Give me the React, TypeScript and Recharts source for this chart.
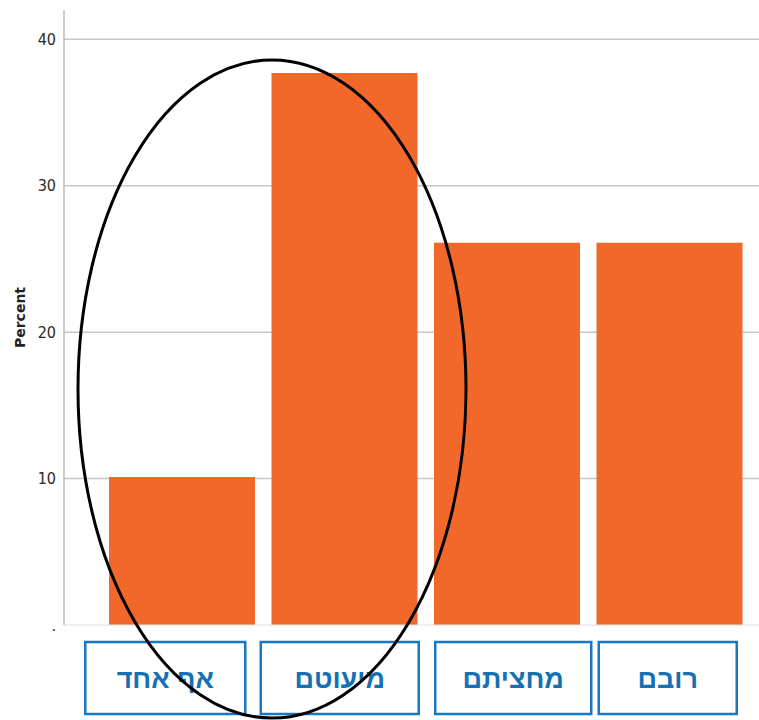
import React from 'react';
import { BarChart, Bar, XAxis, YAxis, CartesianGrid } from 'recharts';

// categories (Hebrew answers) and share of respondents in percent
const categories = ['אף אחד', 'מיעוטם', 'מחציתם', 'רובם'];
const percents = [10.1, 37.7, 26.1, 26.1];
const yTicks = [0, 10, 20, 30, 40];

const data = categories.map((name, i) => ({ name, percent: percents[i] }));

// label box look, per category
const boxWidths = [160, 158, 156, 138];
const boxShift = [-17, -5, 6, -2];

const BoxTick = (props: any) => {
  const { x, y, payload, index } = props;
  const w = boxWidths[index] ?? 150;
  const cx = x + (boxShift[index] ?? 0);
  return (
    <g>
      <rect
        x={cx - w / 2}
        y={y + 9}
        width={w}
        height={72}
        fill="#fff"
        stroke="#1a78c2"
        strokeWidth={2.5}
      />
      <text
        x={cx}
        y={y + 55}
        textAnchor="middle"
        fontFamily="'Liberation Sans', 'DejaVu Sans', sans-serif"
        fontWeight="bold"
        fontSize={27}
        fill="#1670b4"
        direction="rtl"
      >
        {payload.value}
      </text>
    </g>
  );
};

export default function App() {
  return (
    <div style={{ position: 'absolute', left: 0, top: 0, width: 759, height: 720, background: '#fff' }}>
      <BarChart
        width={759}
        height={720}
        data={data}
        margin={{ top: 10, right: 0, bottom: 0, left: 0 }}
      >
        <CartesianGrid
          vertical={false}
          horizontalValues={yTicks.filter((t) => t > 0)}
          stroke="#c8c8c8"
          strokeWidth={1.5}
        />
        <XAxis
          dataKey="name"
          height={95}
          axisLine={{ stroke: '#e0e0e0' }}
          tickLine={false}
          padding={{ left: 37, right: 8 }}
          tick={<BoxTick />}
          interval={0}
        />
        <YAxis
          width={64}
          domain={[0, 42]}
          ticks={yTicks}
          tickLine={false}
          axisLine={{ stroke: '#bdbdbd', strokeWidth: 1.5 }}
          tickFormatter={(v: number) => (v === 0 ? '.' : String(v))}
          tick={{ fill: '#2a2a2a', fontSize: 16, fontFamily: "'DejaVu Sans Condensed', sans-serif" }}
          label={{
            value: 'Percent',
            angle: -90,
            position: 'insideLeft',
            offset: 20,
            style: { fill: '#222', fontSize: 14, fontWeight: 'bold', fontFamily: "'DejaVu Sans', sans-serif", textAnchor: 'middle' },
          }}
        />
        <Bar dataKey="percent" fill="#f2682a" barSize={146} isAnimationActive={false} />
      </BarChart>
      <svg
        width={759}
        height={720}
        style={{ position: 'absolute', left: 0, top: 0, pointerEvents: 'none' }}
      >
        <ellipse cx={272} cy={389} rx={194} ry={329} fill="none" stroke="#000" strokeWidth={3} />
      </svg>
    </div>
  );
}
